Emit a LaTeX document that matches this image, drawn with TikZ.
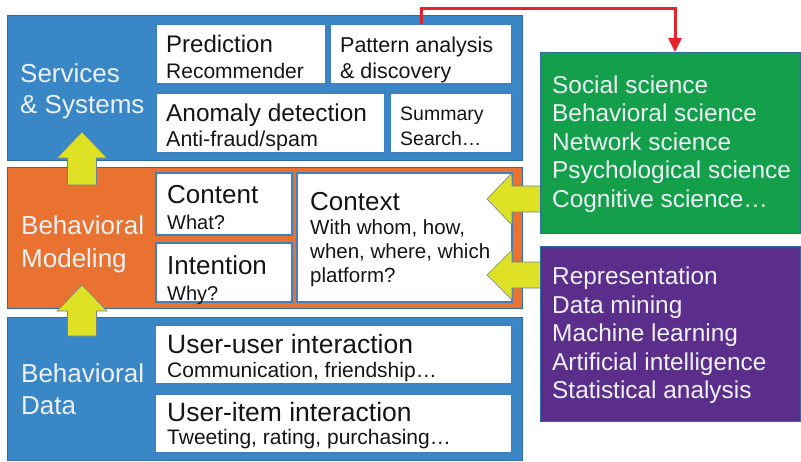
\documentclass[tikz,border=0pt]{standalone}
\usepackage{fontspec}
\setmainfont{Liberation Sans}
\usetikzlibrary{arrows.meta}

\definecolor{panelblue}{HTML}{3A87C7}
\definecolor{paneledge}{HTML}{2E6DA6}
\definecolor{modelorange}{HTML}{EA7230}
\definecolor{scigreen}{HTML}{14A04B}
\definecolor{methpurple}{HTML}{5C2E8B}
\definecolor{flowyellow}{HTML}{DFE124}
\definecolor{arrowedge}{HTML}{6F8296}
\definecolor{linkred}{HTML}{E4232B}
\definecolor{boxedge}{HTML}{3F80C0}
\definecolor{labeltext}{HTML}{EDF2F8}
\definecolor{bodytext}{HTML}{151515}

\newcommand\fsz[1]{\fontsize{#1}{#1}\selectfont}

\tikzset{
  rectnode/.style 2 args={rectangle, inner sep=0pt, outer sep=0pt,
    minimum width=#1, minimum height=#2},
  panel/.style={draw=paneledge, line width=0.8pt},
  wbox/.style={fill=white, draw=boxedge, line width=1.1pt},
  sidelabel/.style={anchor=base west, inner sep=0pt, text=labeltext, font=\fsz{26}},
  boxtext/.style={anchor=base west, inner sep=0pt, text=bodytext, font=\fsz{#1}},
  listtext/.style={anchor=base west, inner sep=0pt, text=labeltext, font=\fsz{24.4}},
  fatarrow/.style={fill=flowyellow, draw=arrowedge, line width=0.6pt, line join=miter},
  linkline/.style={draw=linkred, line width=3pt,
    -{Triangle[length=14pt, width=13pt]}},
}

\begin{document}
\begin{tikzpicture}[x=1pt, y=-1pt]
\useasboundingbox (0,0) rectangle (801,461);
\fill[white] (0,0) rectangle (801,461);

% ---- three layer panels ----
\node[rectnode={515}{145}, panel, fill=panelblue]   (svc) at (264.5,87.5)  {};
\node[rectnode={515}{141}, panel, fill=modelorange] (mod) at (264.5,237.5) {};
\node[rectnode={515}{143}, panel, fill=panelblue]   (dat) at (264.5,388.5) {};

\node[sidelabel] (svc-a) at (20,82)  {Services};
\node[sidelabel] (svc-b) at (20,113) {\& Systems};
\node[sidelabel] (mod-a) at (21,234) {Behavioral};
\node[sidelabel] (mod-b) at (21,267) {Modeling};
\node[sidelabel] (dat-a) at (21,382) {Behavioral};
\node[sidelabel] (dat-b) at (21,414) {Data};

% ---- services & systems ----
\node[rectnode={170}{60}, wbox] (pred) at (241,54)    {};
\node[rectnode={182}{60}, wbox] (pat)  at (421,54)    {};
\node[rectnode={229}{60}, wbox] (anom) at (270.5,123) {};
\node[rectnode={122}{60}, wbox] (summ) at (451,123)   {};

\node[boxtext=24]   (pred-a) at (166,52)  {Prediction};
\node[boxtext=21]   (pred-b) at (166,78)  {Recommender};
\node[boxtext=21.5] (pat-a)  at (340,52)  {Pattern analysis};
\node[boxtext=21.5] (pat-b)  at (340,78)  {\& discovery};
\node[boxtext=24.4] (anom-a) at (166,121) {Anomaly detection};
\node[boxtext=21.5] (anom-b) at (166,146) {Anti-fraud/spam};
\node[boxtext=19.5] (summ-a) at (400,120) {Summary};
\node[boxtext=19.5] (summ-b) at (400,145) {Search…};

% ---- behavioral modeling ----
\node[rectnode={136}{62},  wbox] (cont) at (224,204)     {};
\node[rectnode={136}{59},  wbox] (intn) at (224,272.5)   {};
\node[rectnode={215}{129}, wbox] (ctx)  at (404.5,237.5) {};

\node[boxtext=26]   (cont-a) at (167,203) {Content};
\node[boxtext=20]   (cont-b) at (167,229) {What?};
\node[boxtext=26]   (intn-a) at (167,274) {Intention};
\node[boxtext=20]   (intn-b) at (167,300) {Why?};
\node[boxtext=26]   (ctx-a)  at (310,210) {Context};
\node[boxtext=20.5] (ctx-b)  at (310,234) {With whom, how,};
\node[boxtext=20.5] (ctx-c)  at (310,258) {when, where, which};
\node[boxtext=20.5] (ctx-d)  at (310,282) {platform?};

% ---- behavioral data ----
\node[rectnode={357}{59}, wbox] (uu) at (333.5,354.5) {};
\node[rectnode={357}{59}, wbox] (ui) at (333.5,423.5) {};

\node[boxtext=26.5] (uu-a) at (167,353) {User-user interaction};
\node[boxtext=21]   (uu-b) at (167,377) {Communication, friendship…};
\node[boxtext=26.5] (ui-a) at (167,421) {User-item interaction};
\node[boxtext=21]   (ui-b) at (167,444) {Tweeting, rating, purchasing…};

% ---- upward flow arrows between layers ----
\draw[fatarrow] (67.5,185) -- (67.5,158) -- (57,158) -- (82,132)
  -- (107,158) -- (96.5,158) -- (96.5,185) -- cycle;
\draw[fatarrow] (67.5,336) -- (67.5,311) -- (57,311) -- (82,285)
  -- (107,311) -- (96.5,311) -- (96.5,336) -- cycle;

% ---- arrows from the disciplines into the context box ----
\draw[fatarrow] (541,186) -- (512,186) -- (512,173) -- (487,199)
  -- (512,225) -- (512,212) -- (541,212) -- cycle;
\draw[fatarrow] (541,262) -- (512,262) -- (512,250) -- (487,275)
  -- (512,300) -- (512,288) -- (541,288) -- cycle;

% ---- disciplines ----
\node[rectnode={260}{181}, panel, fill=scigreen]   (grn) at (670,142.5) {};
\node[rectnode={260}{175}, panel, fill=methpurple] (pur) at (670,333.5) {};

\node[listtext] (grn-a) at (552,93)    {Social science};
\node[listtext] (grn-b) at (552,121.5) {Behavioral science};
\node[listtext] (grn-c) at (552,150)   {Network science};
\node[listtext] (grn-d) at (552,178.5) {Psychological science};
\node[listtext] (grn-e) at (552,207)   {Cognitive science…};

\node[listtext] (pur-a) at (552,284) {Representation};
\node[listtext] (pur-b) at (552,313) {Data mining};
\node[listtext] (pur-c) at (552,341) {Machine learning};
\node[listtext] (pur-d) at (552,370) {Artificial intelligence};
\node[listtext] (pur-e) at (552,398) {Statistical analysis};

% ---- feedback link from pattern analysis to the sciences ----
\coordinate (rcorner) at (675,8);
\draw[linkline] (pat.north) |- (rcorner) -- (rcorner |- grn.north);
\end{tikzpicture}
\end{document}
